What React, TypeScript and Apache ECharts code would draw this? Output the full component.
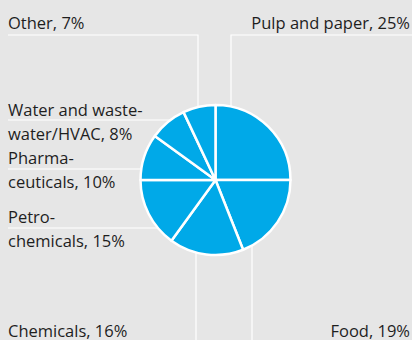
import React, { useEffect, useRef } from "react";
import * as echarts from "echarts";

const categories = [
  "Pulp and paper",
  "Food",
  "Chemicals",
  "Petro-\nchemicals",
  "Pharma-\nceuticals",
  "Water and waste-\nwater/HVAC",
  "Other",
];
const shares = [25, 19, 16, 15, 10, 8, 7];

const CX = 215.5;
const CY = 180;
const R = 75;
const W = 412;
const H = 340;

// layout of each label: leader line either vertical (x) or horizontal (y)
type Spec = {
  kind: "v" | "h";
  at: number; // x for vertical lines, y for horizontal lines
  topOrBottom?: "top" | "bottom";
  elbow?: number; // y where vertical line turns horizontal
  endX?: number;
  labelX: number;
  labelY: number;
  align: "left" | "right";
  lh: number;
};
const specs: Spec[] = [
  { kind: "v", at: 231, topOrBottom: "top", elbow: 35, endX: W, labelX: 410, labelY: 22, align: "right", lh: 24 },
  { kind: "v", at: 252, topOrBottom: "bottom", elbow: H, labelX: 410, labelY: 330, align: "right", lh: 18 },
  { kind: "v", at: 196, topOrBottom: "bottom", elbow: H, labelX: 8, labelY: 330, align: "left", lh: 18 },
  { kind: "h", at: 228, endX: 8, labelX: 8, labelY: 228, align: "left", lh: 24 },
  { kind: "h", at: 169, endX: 8, labelX: 8, labelY: 169, align: "left", lh: 24 },
  { kind: "h", at: 120, endX: 8, labelX: 8, labelY: 121, align: "left", lh: 24 },
  { kind: "v", at: 198, topOrBottom: "top", elbow: 35, endX: 8, labelX: 8, labelY: 22, align: "left", lh: 24 },
];

function anchorOf(s: Spec): [number, number] {
  if (s.kind === "v") {
    const dx = s.at - CX;
    const dy = Math.sqrt(R * R - dx * dx);
    return [s.at, s.topOrBottom === "top" ? CY - dy : CY + dy];
  }
  const dy = s.at - CY;
  const dx = Math.sqrt(R * R - dy * dy);
  return [CX - dx, s.at];
}

export default function App() {
  const ref = useRef<HTMLDivElement>(null);
  useEffect(() => {
    if (!ref.current) return;
    const chart = echarts.init(ref.current, undefined, { renderer: "svg" });
    chart.setOption({
      animation: false,
      backgroundColor: "#e6e6e6",
      series: [
        {
          type: "pie",
          center: [CX, CY],
          radius: R,
          startAngle: 90,
          clockwise: true,
          silent: true,
          avoidLabelOverlap: false,
          itemStyle: { color: "#00a9e8", borderColor: "#ffffff", borderWidth: 2.5 },
          label: {
            show: true,
            position: "outside",
            overflow: "none",
            width: 300,
            formatter: (p: any) => `${p.name}, ${p.value}%`,
            fontFamily: "Open Sans",
            fontSize: 16.5,
            lineHeight: 24,
            color: "#1e1e1e",
          },
          labelLine: {
            show: true,
            lineStyle: { color: "#ffffff", width: 1.2 },
          },
          labelLayout: (params: any) => {
            const s = specs[params.dataIndex];
            const a = anchorOf(s);
            let pts: number[][];
            if (s.kind === "v") {
              if (s.topOrBottom === "top") {
                pts = [a, [s.at, s.elbow!], [s.endX!, s.elbow!]];
              } else {
                pts = [a, [s.at, s.elbow!], [s.at, s.elbow!]];
              }
            } else {
              pts = [a, [s.endX!, s.at], [s.endX!, s.at]];
            }
            return {
              x: s.labelX,
              y: s.labelY,
              align: s.align,
              verticalAlign: "middle",
              labelLinePoints: pts,
            };
          },
          data: categories.map((c, i) => ({
            name: c,
            value: shares[i],
            label: { lineHeight: specs[i].lh },
          })),
        },
      ],
    });
    return () => chart.dispose();
  }, []);
  return (
    <div
      ref={ref}
      style={{ position: "fixed", left: 0, top: 0, width: W, height: H, background: "#e6e6e6" }}
    />
  );
}
